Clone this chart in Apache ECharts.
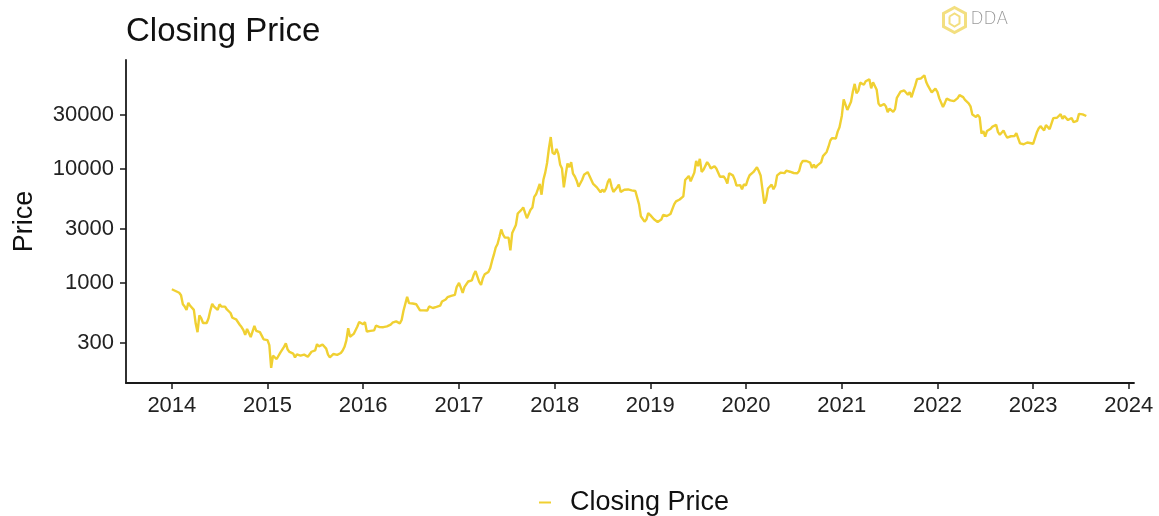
<!DOCTYPE html>
<html>
<head>
<meta charset="utf-8">
<title>Closing Price</title>
<script src="https://cdn.jsdelivr.net/npm/echarts@6/dist/echarts.min.js"></script>
<style>
  html, body { margin: 0; padding: 0; background: #ffffff; }
  #chart { width: 1159px; height: 516px; }
</style>
</head>
<body>
<div id="chart"></div>
<script>
// Weekly closing prices (USD), each year starting on 1 January, one value every 7 days.
const close2014 = [880, 850, 850, 820, 820, 780, 650, 620, 580, 670, 630, 610, 580, 440, 370, 520, 490, 445, 430, 445, 490, 575, 655, 620, 610, 580, 650, 620, 625, 620, 585, 585, 545, 495, 510, 480, 475, 430, 410, 385, 350, 395, 385, 335, 340, 420, 380, 370, 370, 345, 320, 325];
const close2015 = [315, 285, 180, 230, 235, 215, 220, 245, 255, 275, 295, 260, 248, 253, 240, 222, 236, 236, 230, 237, 235, 237, 225, 230, 249, 243, 256, 290, 278, 277, 288, 279, 265, 235, 222, 228, 238, 232, 234, 237, 243, 255, 275, 313, 400, 337, 326, 357, 368, 415, 455, 455];
const close2016 = [434, 453, 375, 385, 380, 386, 384, 422, 432, 410, 420, 409, 416, 416, 420, 430, 448, 455, 460, 455, 442, 473, 570, 580, 755, 665, 675, 660, 665, 650, 655, 575, 588, 575, 578, 573, 622, 607, 603, 608, 617, 638, 632, 688, 704, 716, 750, 740, 770, 770, 785, 920];
const close2017 = [1000, 910, 820, 925, 915, 1030, 1000, 1055, 1180, 1270, 1230, 1020, 960, 1100, 1190, 1180, 1250, 1350, 1560, 1770, 2050, 2200, 2530, 2950, 2660, 2500, 2520, 2500, 1930, 2750, 2750, 3230, 4070, 4090, 4380, 4600, 4120, 3700, 3700, 4400, 4600, 5700, 6000, 6150, 7400, 5950, 8050, 9300, 11300, 15200, 19100, 13900];
const close2018 = [13500, 15000, 13600, 10900, 10100, 6900, 8900, 11200, 10400, 11500, 9100, 8600, 7900, 7000, 6800, 8060, 8900, 9250, 9400, 8700, 8400, 7400, 7650, 6900, 6750, 6250, 6600, 6300, 6750, 7700, 8200, 7050, 6300, 6300, 6900, 7300, 6300, 6300, 6580, 6600, 6620, 6750, 6500, 6340, 6420, 6360, 4900, 3850, 4000, 3450, 3600, 4100];
const close2019 = [3940, 4000, 3620, 3580, 3430, 3470, 3600, 3950, 3820, 3870, 3900, 4030, 3960, 4900, 5200, 5230, 5400, 5350, 5750, 8000, 7950, 8700, 7800, 8000, 9300, 11800, 10600, 12300, 9450, 9850, 9600, 11500, 10900, 10140, 10200, 10600, 10100, 10200, 8550, 8300, 8600, 8160, 7460, 9200, 9340, 8800, 8100, 7150, 7320, 7230, 6640, 7320];
const close2020 = [7200, 8080, 8820, 8680, 9390, 9610, 10350, 9600, 8790, 8760, 4970, 5410, 6750, 6640, 7300, 6640, 7130, 8800, 9160, 9310, 9080, 9200, 9670, 9880, 9470, 9310, 9230, 9430, 9190, 9600, 11100, 11760, 11560, 11760, 11470, 11400, 10240, 10950, 10240, 10780, 10670, 11430, 12990, 13270, 14130, 15700, 17800, 18700, 18800, 18550, 21300, 23240];
const close2021 = [29400, 40800, 36800, 33000, 34300, 38900, 47900, 55900, 46300, 48800, 57300, 58300, 55000, 59000, 58100, 61300, 51100, 57800, 56700, 49600, 37500, 35700, 37000, 37300, 35500, 31600, 33900, 33800, 31800, 33600, 42200, 42800, 47800, 49300, 48900, 50000, 44900, 47300, 42700, 48200, 53900, 61600, 60900, 62300, 61100, 66500, 58100, 53600, 53600, 47100, 46700, 50800];
const close2022 = [47300, 41700, 43100, 35000, 37900, 41500, 42200, 40100, 39100, 39400, 38800, 42000, 44500, 45800, 42800, 40400, 39500, 37700, 35500, 30100, 29400, 28600, 29900, 28400, 20500, 21500, 19300, 21600, 21200, 22600, 23600, 23200, 24400, 21100, 20000, 19800, 21800, 20100, 18900, 19300, 19400, 19200, 19500, 20600, 21300, 16800, 16700, 16500, 17000, 17100, 16800, 16840];
const close2023 = [16600, 17200, 20900, 22700, 23800, 22900, 21800, 24300, 23500, 22400, 22200, 28000, 27500, 28200, 28300, 30300, 27600, 29200, 28400, 26900, 26900, 28100, 25800, 25900, 26500, 30500, 30600, 30200, 30200, 29200];

const years = [2014, 2015, 2016, 2017, 2018, 2019, 2020, 2021, 2022, 2023];
const yearlyCloses = [close2014, close2015, close2016, close2017, close2018, close2019, close2020, close2021, close2022, close2023];

// Axis ticks
const yearTicks = [2014, 2015, 2016, 2017, 2018, 2019, 2020, 2021, 2022, 2023, 2024];
const priceTicks = [300, 1000, 3000, 10000, 30000];

const DAY = 86400000;
const seriesData = [];
years.forEach((y, k) => {
  const start = Date.UTC(y, 0, 1);
  yearlyCloses[k].forEach((v, i) => seriesData.push([start + i * 7 * DAY, v]));
});
const yearTickValues = yearTicks.map(y => Date.UTC(y, 0, 1));

const LINE_COLOR = '#F0D032';
const INK = '#1a1a1a';

const chart = echarts.init(document.getElementById('chart'), null, { renderer: 'canvas' });
chart.setOption({
  animation: false,
  backgroundColor: '#ffffff',
  textStyle: { fontFamily: 'Liberation Sans, Arial, Helvetica, sans-serif' },
  title: {
    text: 'Closing Price',
    left: 121,
    top: 10,
    textStyle: { fontSize: 33, fontWeight: 'normal', color: '#111111' }
  },
  grid: { left: 126, right: 25, top: 60, bottom: 133 },
  legend: {
    data: ['Closing Price'],
    left: 534,
    top: 484,
    icon: 'rect',
    itemWidth: 12,
    itemHeight: 2,
    textStyle: { fontSize: 27, color: '#111111', padding: [0, 0, 0, 14] }
  },
  xAxis: {
    // time positions in milliseconds, labelled by calendar year
    type: 'value',
    min: Date.UTC(2013, 6, 10),
    max: Date.UTC(2024, 0, 21),
    splitLine: { show: false },
    axisLine: { show: true, lineStyle: { color: INK, width: 1.8 } },
    axisTick: { show: true, customValues: yearTickValues, length: 6, lineStyle: { color: INK, width: 1.5 } },
    axisLabel: {
      customValues: yearTickValues,
      fontSize: 22,
      color: '#222222',
      margin: 12,
      formatter: v => String(new Date(v).getUTCFullYear())
    }
  },
  yAxis: {
    type: 'log',
    logBase: 10,
    min: 132.4,
    max: 90600,
    name: 'Price',
    nameLocation: 'middle',
    nameGap: 88,
    nameTextStyle: { fontSize: 27, color: '#111111' },
    splitLine: { show: false },
    minorTick: { show: false },
    axisLine: { show: true, lineStyle: { color: INK, width: 1.8 } },
    axisTick: { show: true, customValues: priceTicks, length: 6, lineStyle: { color: INK, width: 1.5 } },
    axisLabel: {
      customValues: priceTicks,
      fontSize: 22,
      color: '#222222',
      margin: 12,
      formatter: v => String(Math.round(v))
    }
  },
  series: [{
    name: 'Closing Price',
    type: 'line',
    data: seriesData,
    showSymbol: false,
    symbol: 'none',
    color: LINE_COLOR,
    lineStyle: { color: LINE_COLOR, width: 2.4 }
  }],
  graphic: [
    {
      type: 'group',
      left: 941,
      top: 5,
      children: [
        {
          type: 'polygon',
          shape: { points: [[12, 0], [23, 6], [23, 19], [12, 25], [1, 19], [1, 6]] },
          style: { fill: 'none', stroke: '#F3DF80', lineWidth: 3 }
        },
        {
          type: 'polyline',
          shape: { points: [[7, 9], [12, 6], [17, 9], [17, 16], [12, 19], [7, 16], [7, 9]] },
          style: { fill: 'none', stroke: '#F3DF80', lineWidth: 2 }
        },
        {
          type: 'text',
          x: 28,
          y: 4,
          style: { text: 'DDA', fontSize: 17, fill: '#9a9a9a', fontFamily: 'DejaVu Sans, sans-serif', fontWeight: 'lighter' }
        }
      ]
    }
  ]
});
</script>
</body>
</html>
